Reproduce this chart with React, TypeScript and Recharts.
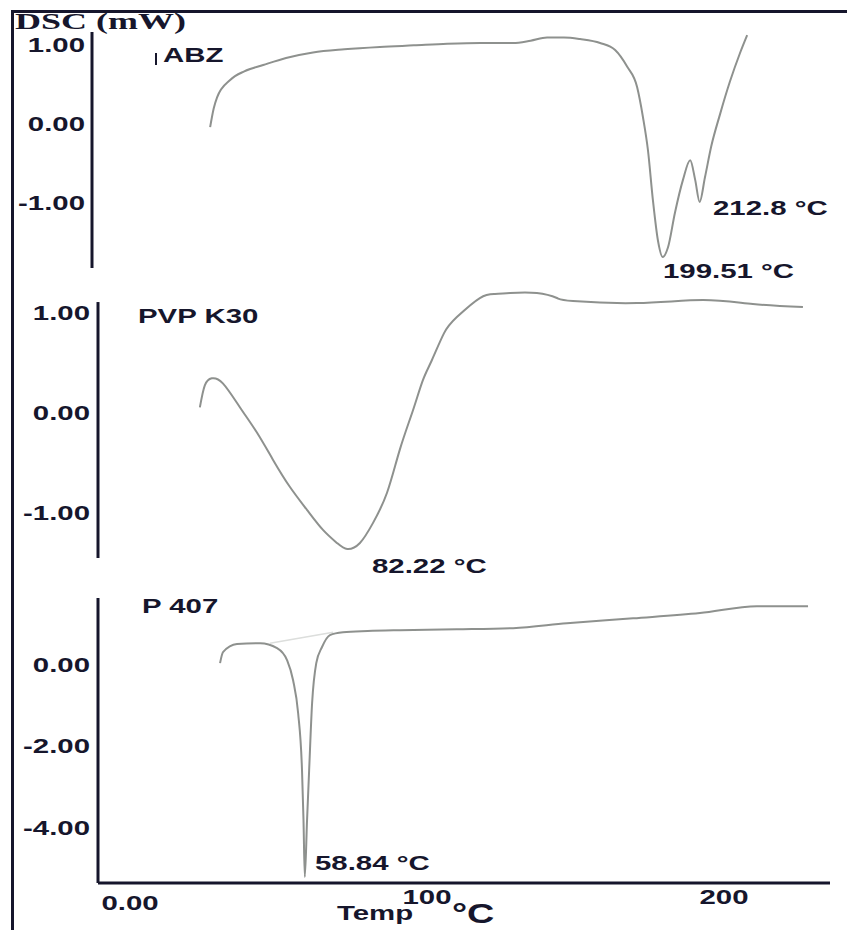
import React from "react";
import { LineChart, Line, XAxis, YAxis, ReferenceLine } from "recharts";

// ABZ trace (temperature °C, heat flow mW)
const abzTemp = [36.7, 38.0, 39.2, 43.9, 49.0, 55.8, 64.0, 73.7, 85.0, 97.8, 110, 122, 134, 145.7, 152, 157.9, 164, 169.8, 177, 182.4, 186.7, 190.3, 192.4, 194.2, 196.0, 197.8, 199.51, 201.4, 203.9, 206.8, 209.4, 211.2, 212.8, 214.7, 217.0, 220.1, 223.7, 227.3, 229.9];
const abzHeat = [-0.06, 0.18, 0.32, 0.54, 0.65, 0.73, 0.82, 0.89, 0.93, 0.96, 0.98, 1.0, 1.01, 1.01, 1.04, 1.08, 1.08, 1.06, 1.01, 0.92, 0.71, 0.45, 0.07, -0.35, -0.99, -1.5, -1.71, -1.59, -1.15, -0.73, -0.48, -0.73, -1.01, -0.7, -0.3, 0.1, 0.52, 0.88, 1.11];

// PVP K30 trace
const pvpTemp = [31.6, 33.3, 35.7, 39.5, 45.4, 51.2, 56.7, 62.5, 68.4, 73.9, 78.7, 82.22, 86.6, 91.1, 95.9, 100.3, 104.8, 108.2, 111.3, 115.5, 119.9, 127.8, 133, 138.1, 147.4, 154.3, 159.8, 181.8, 204.5, 221.6, 238.8];
const pvpHeat = [0.04, 0.26, 0.33, 0.28, 0.04, -0.21, -0.48, -0.75, -0.98, -1.18, -1.31, -1.37, -1.31, -1.11, -0.81, -0.38, 0.01, 0.31, 0.51, 0.78, 0.94, 1.13, 1.17, 1.18, 1.18, 1.13, 1.1, 1.08, 1.11, 1.07, 1.04];

// P 407 trace
const p407Temp = [30.3, 31.3, 36.0, 43.8, 49.5, 52.9, 54.9, 56.6, 57.9, 58.4, 58.84, 59.6, 60.3, 61.3, 62.7, 64.6, 67.3, 71.7, 80, 90.9, 110, 129.0, 147.1, 169.4, 191.9, 211.1, 228.3];
const p407Heat = [0.0, 0.27, 0.47, 0.49, 0.37, 0.07, -0.42, -1.23, -2.63, -3.85, -5.25, -3.85, -2.63, -0.98, 0.0, 0.39, 0.69, 0.76, 0.79, 0.81, 0.83, 0.86, 0.98, 1.1, 1.23, 1.4, 1.4];
const p407BaseTemp = [47.1, 68.4];
const p407BaseHeat = [0.49, 0.76];

const abzTicks = [1, 0, -1];
const pvpTicks = [1, 0, -1];
const p407Ticks = [0, -2, -4];
const tempTicks = [0, 100, 200];

const toPoints = (temps: number[], heats: number[]) =>
  temps.map((t, i) => ({ t, v: heats[i] }));

const INK = "#16162c";
const CURVE = "#8e918e";
const FONT = '"Liberation Sans", Arial, sans-serif';
const STRETCH = 1.4;

function StretchText({
  x,
  y,
  children,
  size = 21,
  anchor = "start",
  family = FONT,
  stretch = STRETCH,
}: {
  x: number;
  y: number;
  children: React.ReactNode;
  size?: number;
  anchor?: "start" | "end" | "middle";
  family?: string;
  stretch?: number;
}) {
  return (
    <text
      transform={`translate(${x} ${y}) scale(${stretch} 1)`}
      textAnchor={anchor}
      fontSize={size}
      fontWeight="bold"
      fill={INK}
      fontFamily={family}
    >
      {children}
    </text>
  );
}

function YTick(props: any) {
  const { x, y, payload } = props;
  return (
    <StretchText x={x} y={y + 8.5} anchor="end">
      {Number(payload.value).toFixed(2)}
    </StretchText>
  );
}

function XTick(props: any) {
  const { x, y, payload } = props;
  const v = Number(payload.value);
  return (
    <StretchText x={x} y={y + (v === 0 ? 27 : 21)} anchor="middle">
      {v === 0 ? "0.00" : String(v)}
    </StretchText>
  );
}

const W = 847;
const axisStyle = { stroke: INK, strokeWidth: 3 };

export default function App() {
  return (
    <div
      style={{
        position: "absolute",
        left: 0,
        top: 0,
        width: W,
        height: 930,
        background: "#fff",
        overflow: "hidden",
      }}
    >
      {/* outer frame */}
      <div style={{ position: "absolute", left: 11, top: 10, width: 3, height: 920, background: INK }} />
      <div style={{ position: "absolute", left: 11, top: 10, width: W - 11, height: 3, background: INK }} />

      {/* ABZ */}
      <div style={{ position: "absolute", left: 0, top: 0 }}>
        <LineChart width={W} height={280} data={toPoints(abzTemp, abzHeat)} margin={{ top: 32, right: 17, bottom: 12, left: 12 }}>
          <XAxis type="number" dataKey="t" domain={[-5.8, 259.7]} hide />
          <YAxis
            type="number"
            domain={[-1.85, 1.15]}
            ticks={abzTicks}
            width={80}
            axisLine={axisStyle}
            tickLine={false}
            tickSize={0}
            tickMargin={7}
            tick={<YTick />}
          />
          <Line type="monotone" dataKey="v" stroke={CURVE} strokeWidth={2} dot={false} isAnimationActive={false} />
        </LineChart>
      </div>

      {/* PVP K30 */}
      <div style={{ position: "absolute", left: 0, top: 280 }}>
        <LineChart width={W} height={300} data={toPoints(pvpTemp, pvpHeat)} margin={{ top: 11, right: 17, bottom: 22, left: 18 }}>
          <XAxis type="number" dataKey="t" domain={[-3.4, 248.1]} hide />
          <YAxis
            type="number"
            domain={[-1.46, 1.2]}
            ticks={pvpTicks}
            width={80}
            axisLine={false}
            tickLine={false}
            tickSize={0}
            tickMargin={8}
            tick={<YTick />}
          />
          <ReferenceLine
            segment={[
              { x: -3.4, y: -1.46 },
              { x: -3.4, y: 1.09 },
            ]}
            stroke={INK}
            strokeWidth={3}
            ifOverflow="visible"
          />
          <Line type="natural" dataKey="v" stroke={CURVE} strokeWidth={2} dot={false} isAnimationActive={false} />
        </LineChart>
      </div>

      {/* P 407 */}
      <div style={{ position: "absolute", left: 0, top: 580 }}>
        <LineChart width={W} height={350} data={toPoints(p407Temp, p407Heat)} margin={{ top: 18, right: 17, bottom: 17, left: 18 }}>
          <XAxis
            type="number"
            dataKey="t"
            domain={[-10.8, 235.7]}
            ticks={tempTicks}
            height={30}
            axisLine={axisStyle}
            tickLine={false}
            tickSize={0}
            tickMargin={0}
            tick={<XTick />}
          />
          <YAxis
            type="number"
            domain={[-5.4, 1.6]}
            ticks={p407Ticks}
            width={80}
            axisLine={axisStyle}
            tickLine={false}
            tickSize={0}
            tickMargin={8}
            tick={<YTick />}
          />
          <Line
            data={toPoints(p407BaseTemp, p407BaseHeat)}
            type="linear"
            dataKey="v"
            stroke="#dcdedc"
            strokeWidth={1.5}
            dot={false}
            isAnimationActive={false}
          />
          <Line type="monotone" dataKey="v" stroke={CURVE} strokeWidth={2} dot={false} isAnimationActive={false} />
        </LineChart>
      </div>

      {/* titles and peak labels */}
      <svg
        width={W}
        height={930}
        style={{ position: "absolute", left: 0, top: 0, pointerEvents: "none" }}
      >
        <StretchText x={15} y={28.5} size={24} stretch={1.5} family='"Liberation Serif", "Times New Roman", serif'>
          DSC (mW)
        </StretchText>
        <line x1={156} y1={53} x2={156} y2={65} stroke={INK} strokeWidth={2} />
        <StretchText x={163} y={62}>ABZ</StretchText>
        <StretchText x={713} y={215}>212.8 °C</StretchText>
        <StretchText x={663} y={278}>199.51 °C</StretchText>
        <StretchText x={138} y={323}>PVP K30</StretchText>
        <StretchText x={372} y={573}>82.22 °C</StretchText>
        <StretchText x={142} y={613}>P 407</StretchText>
        <StretchText x={315} y={870}>58.84 °C</StretchText>
        <StretchText x={337} y={920}>Temp</StretchText>
        <StretchText x={452} y={923} size={27}>°C</StretchText>
      </svg>
    </div>
  );
}
